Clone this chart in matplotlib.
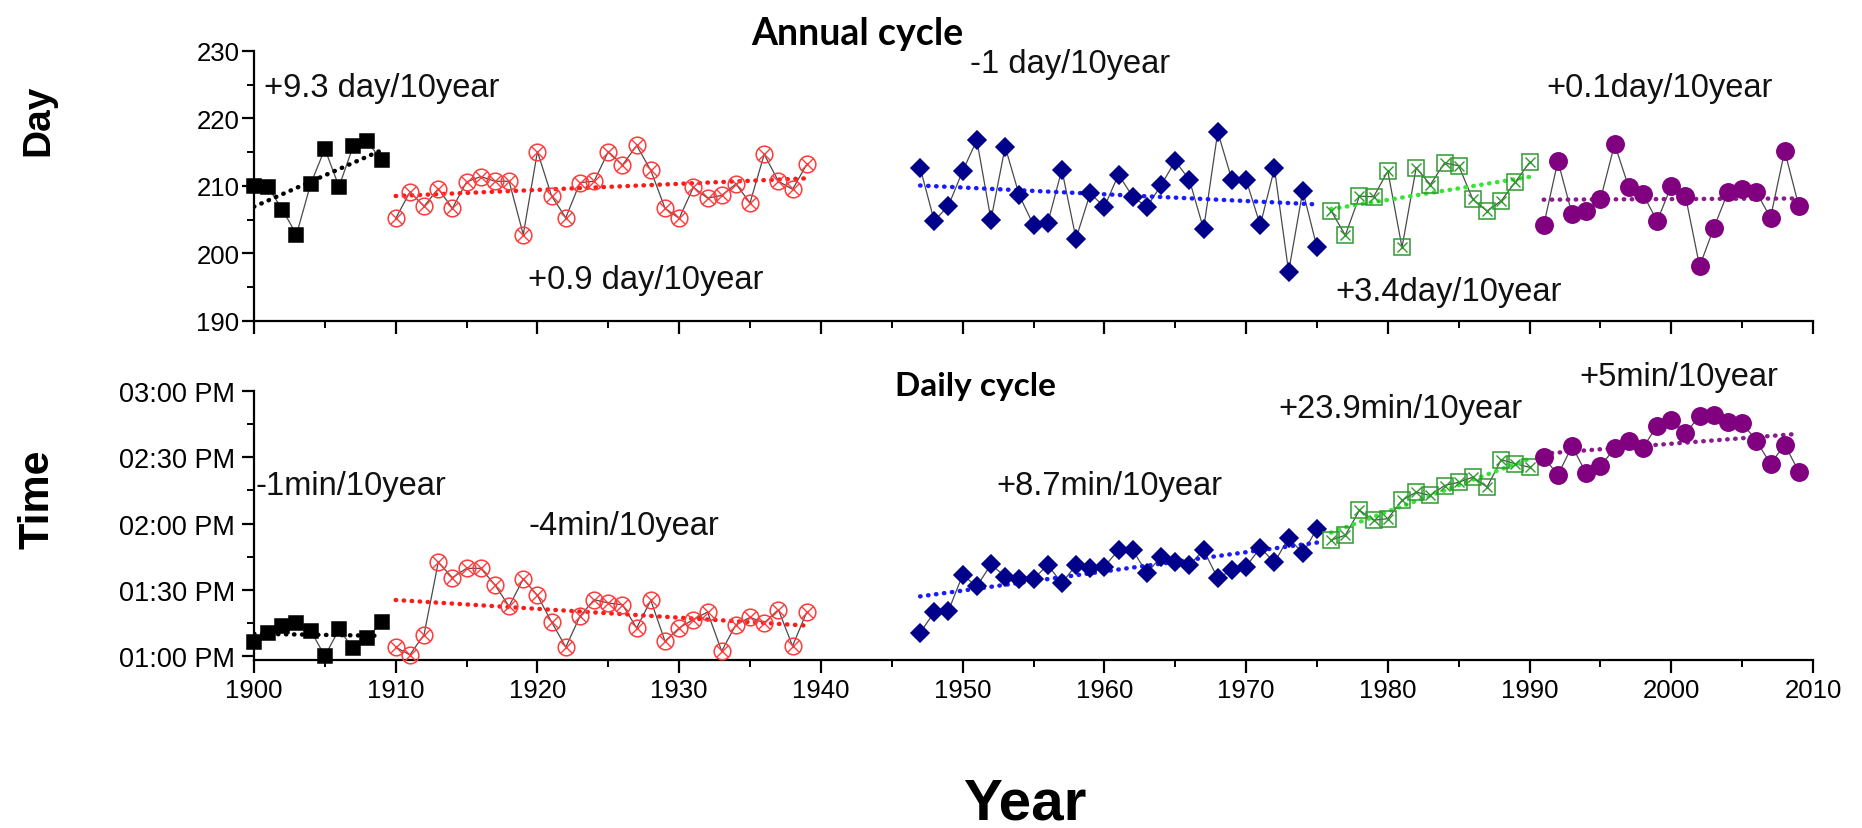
import numpy as np
import matplotlib
matplotlib.use("Agg")
import matplotlib.pyplot as plt
from matplotlib.ticker import MultipleLocator, FuncFormatter

plt.rcParams['font.family'] = ['Liberation Sans', 'DejaVu Sans']

# ---- data: one array per station period ----
years_a = np.arange(1900, 1910)
years_b = np.arange(1910, 1940)
years_c = np.arange(1947, 1976)
years_d = np.arange(1976, 1991)
years_e = np.arange(1991, 2010)

# annual cycle peak (day of year)
day_a = [210.0, 209.8, 206.5, 202.8, 210.3, 215.5, 209.9, 215.9, 216.6, 213.8]
day_b = [205.2, 209.1, 207.0, 209.6, 206.7, 210.6, 211.4, 210.7, 210.7, 202.8,
         215.1, 208.5, 205.3, 210.5, 210.7, 215.1, 213.1, 216.0, 212.3, 206.7,
         205.2, 209.8, 208.2, 208.6, 210.3, 207.5, 214.7, 210.7, 209.5, 213.2]
day_c = [212.7, 204.8, 207.1, 212.2, 216.8, 205.0, 215.8, 208.6, 204.2, 204.5,
         212.4, 202.2, 208.9, 206.9, 211.7, 208.4, 206.9, 210.1, 213.7, 210.9,
         203.6, 218.0, 210.9, 210.9, 204.2, 212.6, 197.3, 209.3, 200.9]
day_d = [206.3, 202.7, 208.5, 208.4, 212.2, 200.9, 212.7, 210.2, 213.4, 213.0,
         208.0, 206.3, 207.8, 210.6, 213.5]
day_e = [204.2, 213.7, 205.8, 206.3, 208.0, 216.2, 209.8, 208.8, 204.8, 210.0,
         208.5, 198.1, 203.8, 209.1, 209.5, 209.1, 205.3, 215.2, 207.0]

# daily cycle peak (minutes after midnight)
time_a = [786.5, 790.5, 793.5, 795.0, 791.5, 780.0, 792.0, 783.5, 788.0, 795.5]
time_b = [784.0, 780.5, 789.7, 822.4, 815.5, 819.7, 819.7, 812.2, 802.5, 814.9,
          807.4, 795.4, 784.0, 798.0, 805.5, 804.0, 803.2, 792.7, 805.2, 786.7,
          792.7, 796.5, 799.9, 782.2, 794.2, 797.5, 795.0, 801.0, 784.5, 799.9]
time_c = [790.5, 799.9, 800.5, 816.7, 811.5, 821.5, 816.0, 814.9, 814.9, 821.2,
          813.0, 821.2, 819.7, 820.5, 828.0, 828.0, 817.5, 825.0, 822.7, 821.2,
          828.0, 815.2, 819.0, 820.5, 829.0, 822.4, 833.5, 826.5, 837.7]
time_d = [832.5, 834.7, 846.0, 841.5, 842.2, 850.5, 854.2, 852.7, 857.2, 858.7,
          861.0, 856.5, 868.9, 867.0, 865.5]
time_e = [870.0, 862.0, 875.0, 862.7, 866.0, 874.0, 877.5, 874.3, 884.3, 887.0,
          880.8, 888.8, 889.2, 885.8, 885.5, 877.5, 867.0, 875.7, 863.5]

# trend rates written on the panels (per 10 years)
rate_day = [9.3, 0.9, -1.0, 3.4, 0.1]
rate_time = [-1.0, -4.0, 8.7, 23.9, 5.0]
day_labels = ['+9.3 day/10year', '+0.9 day/10year', '-1 day/10year',
              '+3.4day/10year', '+0.1day/10year']
time_labels = ['-1min/10year', '-4min/10year', '+8.7min/10year',
               '+23.9min/10year', '+5min/10year']

years = [years_a, years_b, years_c, years_d, years_e]
days = [day_a, day_b, day_c, day_d, day_e]
times = [time_a, time_b, time_c, time_d, time_e]

# marker styles per period: (marker, face, edge, inner cross, trend colour, size)
styles = [
    ('s', 'black', 'black', False, 'black', 10.5),
    ('o', 'none', '#ff3b3b', True, '#ff1a1a', 12.0),
    ('D', '#00008b', '#00008b', False, '#1a1aff', 9.5),
    ('s', 'none', '#2e9a2e', True, '#33e633', 11.0),
    ('o', '#800080', '#800080', False, '#8b1a8b', 12.5),
]


def draw_panel(ax, vals_list, rates):
    for x, v, r, st in zip(years, vals_list, rates, styles):
        x = np.asarray(x, float)
        v = np.asarray(v, float)
        mk, fc, ec, cross, tc, ms = st
        ax.plot(x, v, '-', color='#4a4a4a', lw=0.9, zorder=1)
        # trend line with the stated slope through the period mean
        slope = r / 10.0
        xm, vm = x.mean(), v.mean()
        ax.plot(x, vm + slope * (x - xm), color=tc, lw=3.2,
                ls=(0, (0.1, 1.7)), dash_capstyle='round', zorder=2)
        ax.plot(x, v, ls='none', marker=mk, ms=ms, mfc=fc, mec=ec,
                mew=1.1, zorder=3, clip_on=False)
        if cross:
            ax.plot(x, v, ls='none', marker='x', ms=ms * 0.68, mec=ec,
                    mew=1.0, zorder=4, clip_on=False)


def style_axes(ax):
    for s in ('top', 'right'):
        ax.spines[s].set_visible(False)
    for s in ('left', 'bottom'):
        ax.spines[s].set_linewidth(1.6)
    ax.set_facecolor('none')
    ax.set_xlim(1900, 2010)
    ax.xaxis.set_major_locator(MultipleLocator(10))
    ax.xaxis.set_minor_locator(MultipleLocator(5))
    ax.tick_params(which='major', direction='out', length=9, width=1.6,
                   labelsize=18.5, pad=4)
    ax.tick_params(which='minor', direction='out', length=5, width=1.4)


fig = plt.figure(figsize=(18.62, 8.29), dpi=100)

# ---- annual cycle ----
ax1 = fig.add_axes([0.1364, 0.6116, 0.8373, 0.3257])
draw_panel(ax1, days, rate_day)
style_axes(ax1)
ax1.set_ylim(190, 230)
ax1.yaxis.set_major_locator(MultipleLocator(10))
ax1.yaxis.set_minor_locator(MultipleLocator(5))
ax1.tick_params(axis='x', labelbottom=False)
ax1.tick_params(axis='y', labelsize=18.5, pad=1.5)

day_pos = [(1900.7, 224.6), (1919.3, 196.1), (1950.5, 228.2),
           (1976.3, 194.3), (1991.2, 224.6)]
for (tx, ty), s in zip(day_pos, day_labels):
    ax1.text(tx, ty, s, fontsize=23.5, va='center', ha='left', color='#111111')
ax1.text(1942.6, 232.6, 'Annual cycle', fontsize=27, fontweight='bold',
         family=['Lato', 'DejaVu Sans'], ha='center', va='center', clip_on=False)

# ---- daily cycle ----
ax2 = fig.add_axes([0.1364, 0.2027, 0.8373, 0.3244])
draw_panel(ax2, times, rate_time)
style_axes(ax2)
ax2.set_ylim(778.2, 900)
ax2.yaxis.set_major_locator(MultipleLocator(30))
ax2.yaxis.set_minor_locator(MultipleLocator(15))
ax2.tick_params(axis='y', labelsize=19.5, pad=4.5)


def clock(m, pos):
    h, mm = divmod(int(round(m)), 60)
    h12 = h - 12 if h > 12 else h
    return f"{h12:02d}:{mm:02d} PM"


ax2.yaxis.set_major_formatter(FuncFormatter(clock))

time_pos = [(1900.1, 857.0), (1919.4, 839.3), (1952.4, 857.0),
            (1972.3, 891.9), (1993.5, 906.4)]
for (tx, ty), s in zip(time_pos, time_labels):
    ax2.text(tx, ty, s, fontsize=23.5, va='center', ha='left', color='#111111',
             clip_on=False)
ax2.text(1945.2, 902.7, 'Daily cycle', fontsize=24, fontweight='bold',
         family=['Lato', 'DejaVu Sans'], ha='left', va='center', clip_on=False)

# ---- axis titles ----
fig.text(0.0204, 0.855, 'Day', rotation=90, fontsize=28, fontweight='bold',
         ha='center', va='center')
fig.text(0.0204, 0.398, 'Time', rotation=90, fontsize=31, fontweight='bold',
         ha='center', va='center')
fig.text(0.5505, 0.030, 'Year', fontsize=42, fontweight='bold',
         ha='center', va='center')

fig.savefig('out.png', dpi=100, facecolor='white')
